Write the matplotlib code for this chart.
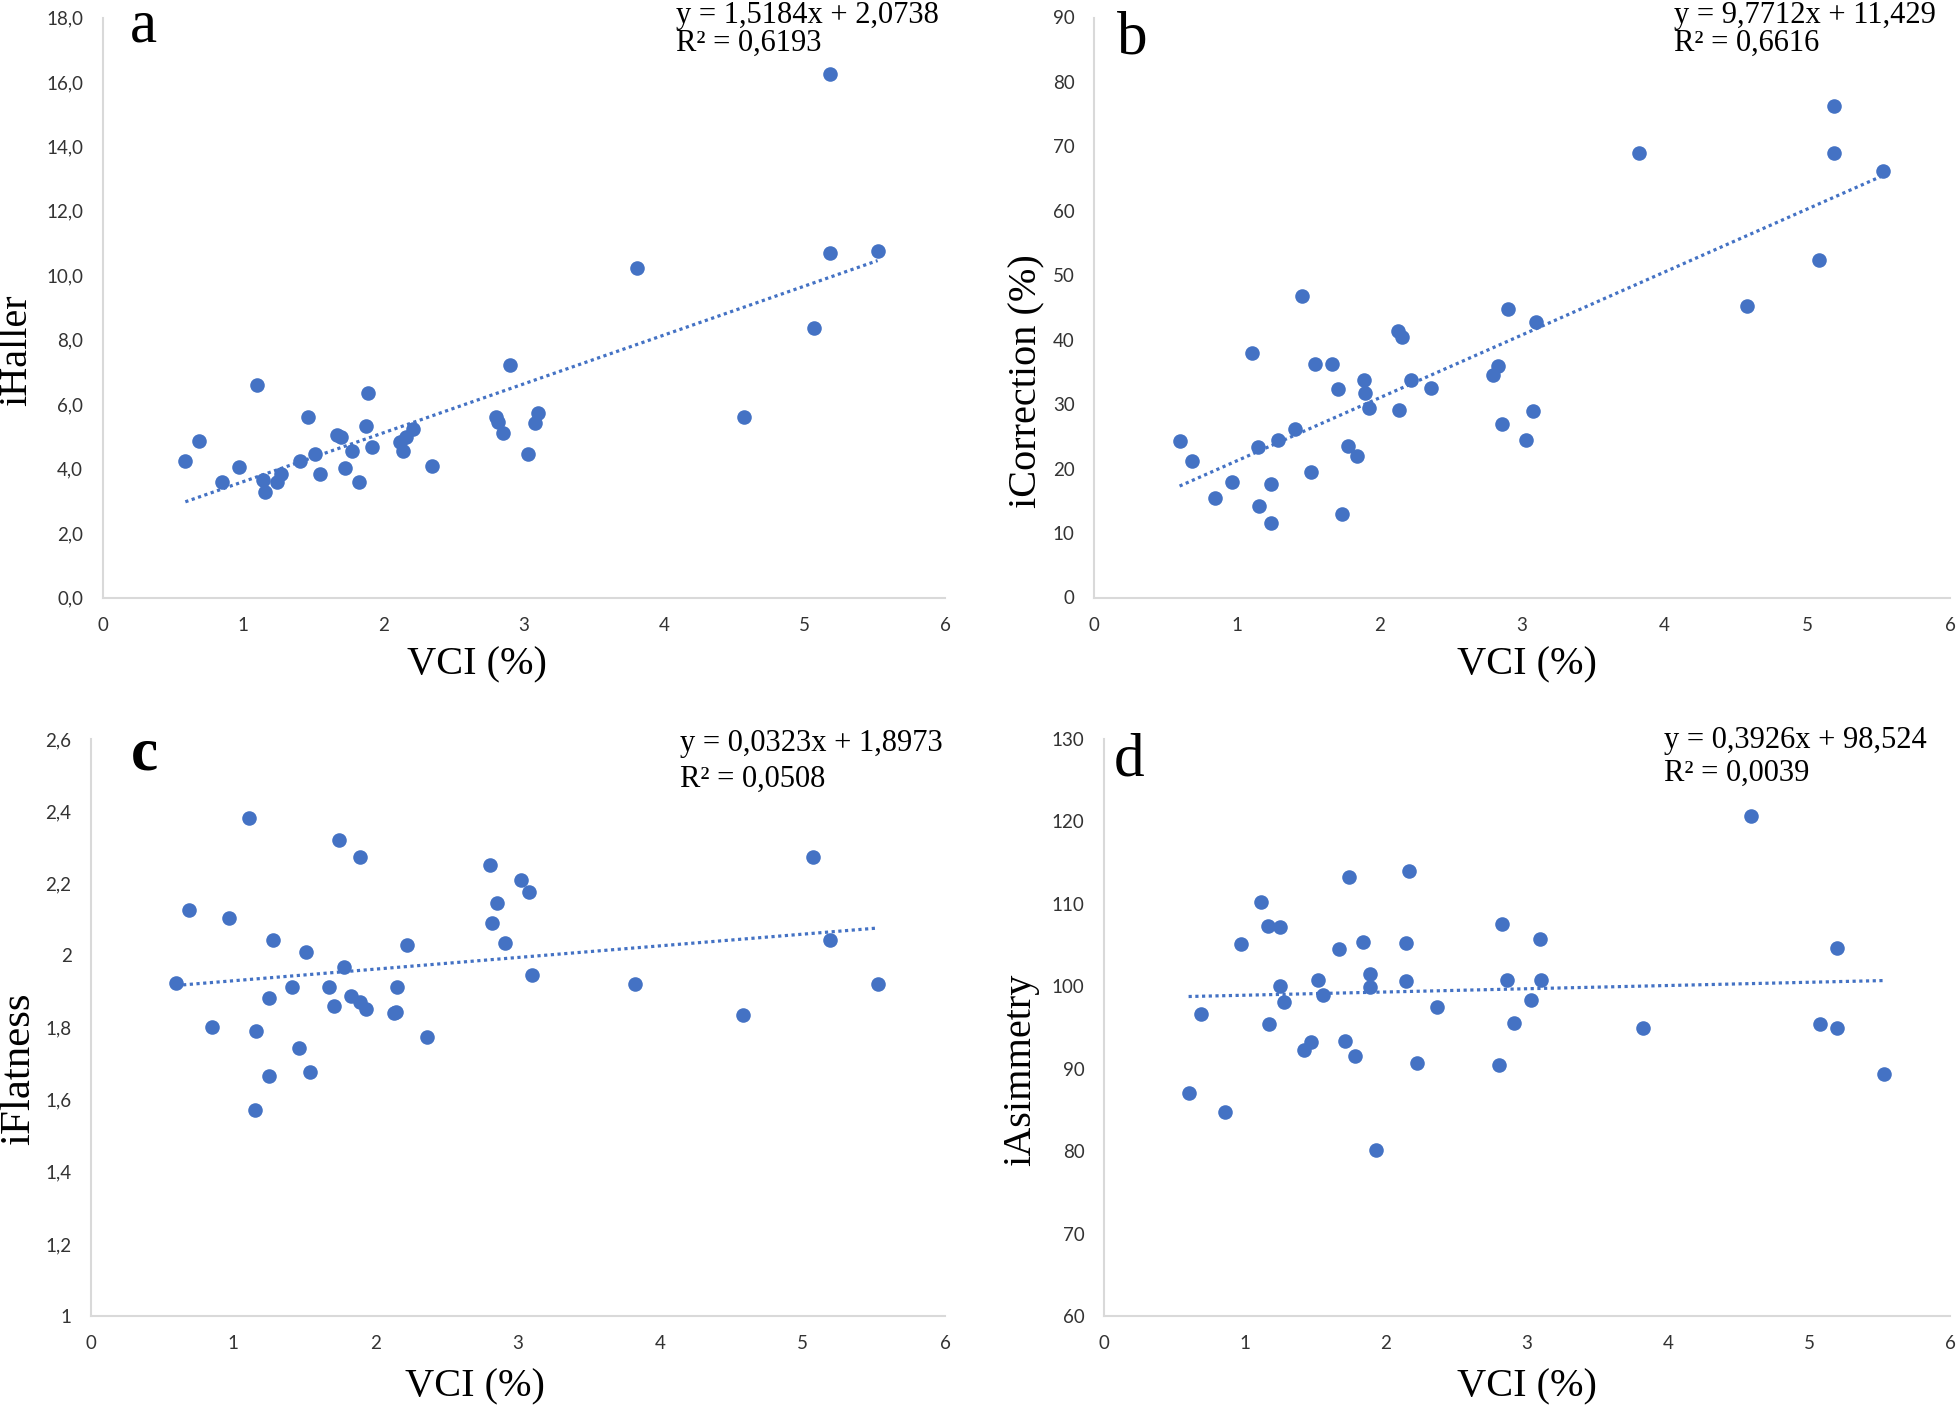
import matplotlib
matplotlib.use("Agg")
import matplotlib.pyplot as plt
import numpy as np

# ---------------- data ----------------
xa = [0.59, 0.69, 0.85, 0.97, 1.10, 1.14, 1.16, 1.24, 1.27, 1.41, 1.46, 1.51, 1.55,
      1.67, 1.70, 1.73, 1.78, 1.83, 1.88, 1.89, 1.92, 2.12, 2.14, 2.16, 2.21, 2.35,
      2.80, 2.82, 2.85, 2.90, 3.03, 3.08, 3.10, 3.81, 4.57, 5.07, 5.18, 5.18, 5.52]
ya = [4.23, 4.87, 3.59, 4.05, 6.61, 3.66, 3.27, 3.59, 3.82, 4.24, 5.61, 4.45, 3.84,
      5.05, 4.99, 4.02, 4.55, 3.57, 5.31, 6.36, 4.67, 4.83, 4.55, 4.99, 5.24, 4.09,
      5.61, 5.45, 5.09, 7.22, 4.45, 5.41, 5.72, 10.24, 5.61, 8.36, 10.68, 16.26, 10.75]

xb = [0.60, 0.69, 0.85, 0.97, 1.11, 1.15, 1.16, 1.24, 1.24, 1.29, 1.41, 1.46, 1.52,
      1.55, 1.67, 1.71, 1.74, 1.78, 1.84, 1.89, 1.90, 1.93, 2.13, 2.14, 2.16, 2.22,
      2.36, 2.80, 2.83, 2.86, 2.90, 3.03, 3.08, 3.10, 3.82, 4.58, 5.08, 5.19, 5.19, 5.53]
yb = [24.3, 21.2, 15.4, 17.9, 38.0, 23.4, 14.2, 17.6, 11.5, 24.4, 26.2, 46.8, 19.4,
      36.2, 36.2, 32.4, 12.9, 23.5, 22.0, 33.8, 31.8, 29.4, 41.4, 29.1, 40.5, 33.7,
      32.5, 34.6, 35.9, 26.9, 44.8, 24.4, 29.0, 42.7, 68.9, 45.2, 52.4, 76.3, 68.9, 66.2]

xc = [0.60, 0.69, 0.85, 0.97, 1.11, 1.16, 1.15, 1.25, 1.25, 1.28, 1.41, 1.46, 1.51,
      1.54, 1.67, 1.71, 1.74, 1.78, 1.83, 1.89, 1.89, 1.93, 2.13, 2.14, 2.15, 2.22,
      2.36, 2.80, 2.82, 2.85, 2.91, 3.02, 3.08, 3.10, 3.82, 4.58, 5.07, 5.19, 5.53]
yc = [1.923, 2.126, 1.801, 2.104, 2.380, 1.789, 1.572, 1.883, 1.666, 2.044, 1.913,
      1.742, 2.009, 1.677, 1.913, 1.861, 2.320, 1.967, 1.886, 1.872, 2.273, 1.852,
      1.839, 1.842, 1.913, 2.029, 1.773, 2.250, 2.089, 2.146, 2.035, 2.210, 2.175,
      1.946, 1.921, 1.836, 2.273, 2.043, 1.920]

xd = [0.60, 0.69, 0.86, 0.97, 1.11, 1.16, 1.17, 1.25, 1.25, 1.28, 1.42, 1.47, 1.52,
      1.55, 1.67, 1.71, 1.74, 1.78, 1.84, 1.89, 1.89, 1.93, 2.14, 2.14, 2.16, 2.22,
      2.36, 2.80, 2.82, 2.86, 2.91, 3.03, 3.09, 3.10, 3.82, 4.59, 5.08, 5.20, 5.20, 5.53]
yd = [87.0, 96.6, 84.7, 105.1, 110.2, 107.3, 95.4, 107.2, 100.0, 98.1, 92.3, 93.3,
      100.8, 99.0, 104.5, 93.4, 113.2, 91.6, 105.4, 101.5, 99.9, 80.1, 100.7, 105.3,
      114.0, 90.7, 97.5, 90.5, 107.6, 100.8, 95.5, 98.3, 105.7, 100.8, 95.0, 120.6,
      95.4, 104.7, 95.0, 89.3]

# trend line coefficients (slope, intercept) and labels
fits = [(1.5184, 2.0738), (9.7712, 11.429), (0.0323, 1.8973), (0.3926, 98.524)]
eq_texts = ["y = 1,5184x + 2,0738", "y = 9,7712x + 11,429",
            "y = 0,0323x + 1,8973", "y = 0,3926x + 98,524"]
r2_texts = ["R² = 0,6193", "R² = 0,6616", "R² = 0,0508", "R² = 0,0039"]
ylabels = ["iHaller", "iCorrection (%)", "iFlatness", "iAsimmetry"]
letters = ["a", "b", "c", "d"]

yticks_list = [
    [0, 2, 4, 6, 8, 10, 12, 14, 16, 18],
    [0, 10, 20, 30, 40, 50, 60, 70, 80, 90],
    [1, 1.2, 1.4, 1.6, 1.8, 2, 2.2, 2.4, 2.6],
    [60, 70, 80, 90, 100, 110, 120, 130],
]
ytick_labels = [
    ["0,0", "2,0", "4,0", "6,0", "8,0", "10,0", "12,0", "14,0", "16,0", "18,0"],
    ["0", "10", "20", "30", "40", "50", "60", "70", "80", "90"],
    ["1", "1,2", "1,4", "1,6", "1,8", "2", "2,2", "2,4", "2,6"],
    ["60", "70", "80", "90", "100", "110", "120", "130"],
]
xticks = [0, 1, 2, 3, 4, 5, 6]
xtick_labels = ["0", "1", "2", "3", "4", "5", "6"]

# ---------------- layout ----------------
W, H = 1960, 1422
fig = plt.figure(figsize=(W / 100, H / 100), dpi=100)

# axes boxes in pixels: left, right, bottom(y px from top), top(y px from top)
boxes = [(102.5, 945, 597.5, 17.5), (1094, 1950, 597.5, 17.5),
         (91, 945, 1316, 739), (1104, 1950, 1316, 739)]

datasets = [(xa, ya), (xb, yb), (xc, yc), (xd, yd)]
blue = "#4472C4"
serif = "Liberation Serif"
tickfont = "Lato"

eq_pos = [(676, 23, 51), (1674, 23, 51), (680, 751, 787), (1664, 748, 781)]
letter_pos = [(130, 42), (1117, 53), (131, 769), (1114, 776)]
letter_weight = ["normal", "normal", "bold", "normal"]
xlabel_pos = [(477, 665), (1527, 665), (475, 1387), (1527, 1387)]
ylabel_pos = [(17, 350), (1027, 381), (19, 1069), (1021, 1070)]
ylabel_size = [29, 29, 31, 29]

for i in range(4):
    l, r, b, t = boxes[i]
    ax = fig.add_axes([l / W, 1 - b / H, (r - l) / W, (b - t) / H])
    x, y = datasets[i]
    ax.scatter(x, y, s=110, color=blue, zorder=3, linewidths=0)
    m, c0 = fits[i]
    xx = np.array([min(x), max(x)])
    ax.plot(xx, m * xx + c0, color=blue, lw=2.3, linestyle=(0, (1, 1.1)), zorder=2)

    ax.set_xlim(0, 6)
    yt = yticks_list[i]
    ax.set_ylim(yt[0], yt[-1])
    ax.set_xticks(xticks)
    ax.set_xticklabels(xtick_labels)
    ax.set_yticks(yt)
    ax.set_yticklabels(ytick_labels[i])
    ax.tick_params(length=0, labelsize=13.5, colors="#333333", pad=14)
    for lab in ax.get_xticklabels() + ax.get_yticklabels():
        lab.set_family(tickfont)
    for s in ("top", "right"):
        ax.spines[s].set_visible(False)
    for s in ("left", "bottom"):
        ax.spines[s].set_color("#D9D9D9")
        ax.spines[s].set_linewidth(1.5)
    ax.set_facecolor("none")

    ex, eb1, eb2 = eq_pos[i]
    fig.text(ex / W, 1 - eb1 / H, eq_texts[i], family=serif, fontsize=22,
             ha="left", va="baseline")
    fig.text(ex / W, 1 - eb2 / H, r2_texts[i], family=serif, fontsize=22,
             ha="left", va="baseline")
    lx, lb = letter_pos[i]
    fig.text(lx / W, 1 - lb / H, letters[i], family=serif, fontsize=44,
             fontweight=letter_weight[i], ha="left", va="baseline")
    xlx, xly = xlabel_pos[i]
    fig.text(xlx / W, 1 - xly / H, "VCI (%)", family=serif, fontsize=29,
             ha="center", va="center")
    ylx, yly = ylabel_pos[i]
    fig.text(ylx / W, 1 - yly / H, ylabels[i], family=serif, fontsize=ylabel_size[i],
             ha="center", va="center", rotation=90)

fig.savefig("out.png", dpi=100)
